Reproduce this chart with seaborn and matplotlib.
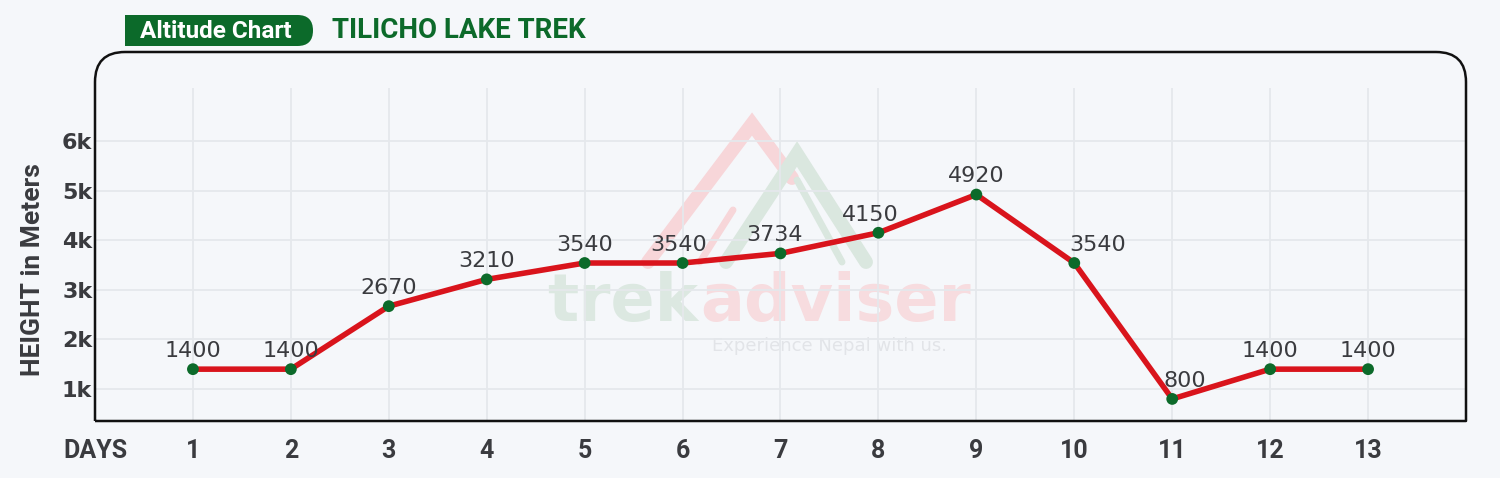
import matplotlib
matplotlib.use("Agg")
import numpy as np
import pandas as pd
import seaborn as sns
import matplotlib.pyplot as plt
from matplotlib import font_manager as fm
from matplotlib.path import Path
from matplotlib.patches import PathPatch, FancyBboxPatch, Rectangle
from matplotlib.lines import Line2D
import matplotlib.transforms as mtransforms

# ---------------- data ----------------
days = list(range(1, 14))
altitudes = [1400, 1400, 2670, 3210, 3540, 3540, 3734, 4150, 4920, 3540, 800, 1400, 1400]
x_tick_labels = ["DAYS"] + [str(d) for d in days]
y_tick_values = [1000, 2000, 3000, 4000, 5000, 6000]
y_tick_labels = ["1k", "2k", "3k", "4k", "5k", "6k"]
title_badge = "Altitude Chart"
title_text = "TILICHO LAKE TREK"
y_axis_label = "HEIGHT in Meters"

# label horizontal nudges (points) - style only
label_dx = [0, 0, 0, 0, 0, -3, -4, -6, 0, 17, 9, 0, 0]

# ---------------- style ----------------
BG = "#F5F7FA"
GRID = "#E5E8EC"
RED = "#D9141C"
GREEN = "#0C6A2A"
TXT = "#3A3B3F"

sns.set_style("white")


def has_font(name):
    try:
        fm.findfont(fm.FontProperties(family=name), fallback_to_default=False)
        return True
    except Exception:
        return False


NARROW = "Liberation Sans Narrow" if has_font("Liberation Sans Narrow") else "Roboto"
plt.rcParams["font.family"] = ["DejaVu Sans"]

W, H = 1500, 478
fig = plt.figure(figsize=(W / 100, H / 100), dpi=100, facecolor=BG)

# pixel (top-left origin) -> figure transform
PX = mtransforms.Affine2D().scale(1 / W, -1 / H).translate(0, 1) + fig.transFigure

# axes placement
L, R, T, B = 95, 1466, 88, 421
ax = fig.add_axes([L / W, (H - B) / H, (R - L) / W, (B - T) / H])
ax.set_facecolor("none")
ax.set_zorder(2)

df = pd.DataFrame({"day": days, "alt": altitudes})
sns.lineplot(data=df, x="day", y="alt", color=RED, linewidth=4.0, ax=ax, zorder=3)
sns.scatterplot(data=df, x="day", y="alt", color=GREEN, s=72, edgecolor="none",
                zorder=4, ax=ax, legend=False)

for d, v, dx in zip(days, altitudes, label_dx):
    ax.annotate(str(v), (d, v), xytext=(dx, 13), textcoords="offset points",
                ha="center", va="center", fontsize=16, color=TXT,
                family="DejaVu Sans", zorder=5)

ax.set_xlim(0, 14)
ax.set_ylim(355, 7068)
ax.set_xticks(range(0, 14))
ax.set_xticklabels(x_tick_labels)
ax.set_yticks(y_tick_values)
ax.set_yticklabels(y_tick_labels)
ax.grid(True, color=GRID, linewidth=1.3)
ax.set_axisbelow(True)
for s in ax.spines.values():
    s.set_visible(False)
ax.tick_params(axis="x", length=0, pad=13, labelsize=18, labelcolor=TXT)
ax.tick_params(axis="y", length=0, pad=2, labelsize=16, labelcolor=TXT)
for t in ax.get_xticklabels():
    t.set_family("Roboto")
    t.set_fontweight("bold")
for t in ax.get_yticklabels():
    t.set_family("DejaVu Sans")
    t.set_fontweight("bold")
ax.set_xlabel("")
ax.set_ylabel(y_axis_label, fontsize=19, color=TXT, family="Roboto",
              fontweight="semibold", va="center")
ax.yaxis.set_label_coords((33 - L) / (R - L), (B - 270) / (B - T))

# ---------------- frame with rounded top corners ----------------
r = 30
verts = [(L, B), (L, 52 + r), (L, 52), (L + r, 52), (R - r, 52), (R, 52), (R, 52 + r),
         (R, B), (L, B)]
codes = [Path.MOVETO, Path.LINETO, Path.CURVE3, Path.CURVE3, Path.LINETO,
         Path.CURVE3, Path.CURVE3, Path.LINETO, Path.LINETO]
frame = PathPatch(Path(verts, codes), facecolor="none", edgecolor="#111111",
                  linewidth=1.8, transform=PX, zorder=6, joinstyle="round")
fig.add_artist(frame)

# ---------------- watermark ----------------
wm_red = "#F7D6D9"
wm_green = "#DAE7DF"
fig.add_artist(Line2D([648, 752, 792], [262, 124, 178], color=wm_red, lw=10,
                      solid_joinstyle="miter", transform=PX, zorder=-2))
fig.add_artist(Line2D([700, 733], [262, 210], color=wm_red, lw=5,
                      transform=PX, zorder=-2))
fig.add_artist(Line2D([726, 797, 866], [262, 154, 262], color=wm_green, lw=10,
                      solid_joinstyle="miter", transform=PX, zorder=-2))
fig.add_artist(Line2D([797, 842], [180, 262], color=wm_green, lw=5,
                      transform=PX, zorder=-2))
fig.text(698 / W, 1 - 321 / H, "trek", ha="right", va="baseline", fontsize=47,
         fontweight="bold", color="#DCE8E1", zorder=-1)
fig.text(700 / W, 1 - 321 / H, "adviser", ha="left", va="baseline", fontsize=47,
         fontweight="bold", color="#F7DCDF", zorder=-1)
fig.text(830 / W, 1 - 346 / H, "Experience Nepal with us.", ha="center", va="center",
         fontsize=13, color="#E2E4E8", zorder=-1)

# ---------------- title ----------------
pill = FancyBboxPatch((125, 15), 188, 31, boxstyle="round,pad=0,rounding_size=15.5",
                      facecolor=GREEN, edgecolor="none", transform=PX, zorder=6)
fig.add_artist(pill)
fig.add_artist(Rectangle((125, 15), 40, 31, facecolor=GREEN, edgecolor="none",
                         transform=PX, zorder=6))
fig.text(216 / W, 1 - 31 / H, title_badge, ha="center", va="center", fontsize=17.5,
         family=NARROW, fontweight="bold", color="white", zorder=7)
fig.text(332 / W, 1 - 31 / H, title_text, ha="left", va="center", fontsize=20,
         family=NARROW, fontweight="bold", color=GREEN, zorder=7)

fig.savefig("out.png", dpi=100, facecolor=BG)
